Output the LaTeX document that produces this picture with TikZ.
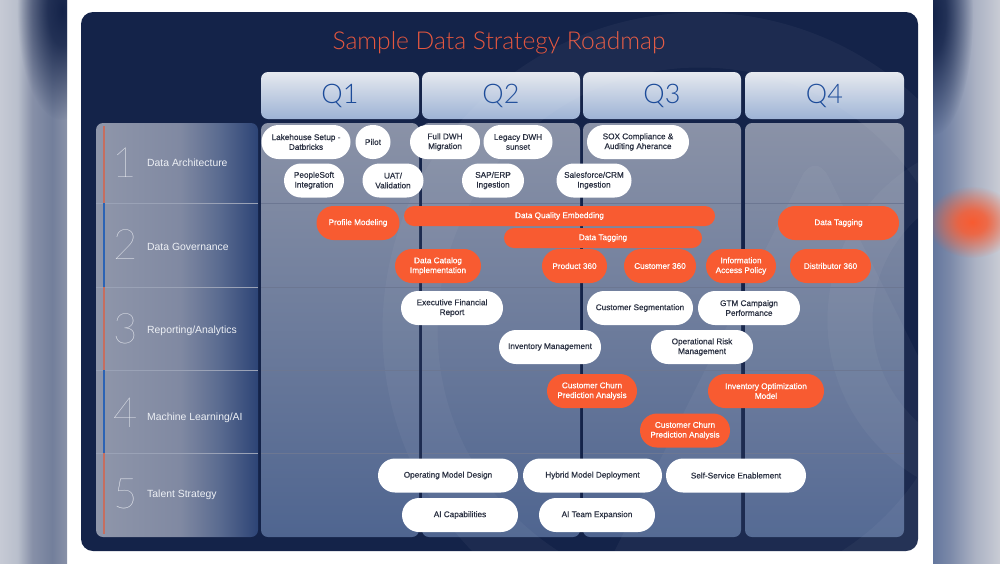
\documentclass[tikz,border=0pt]{standalone}
\usepackage{fontspec}
\setmainfont{Liberation Sans}
\IfFontExistsTF{Lato Light}{\newfontfamily\ttlfont{Lato Light}}{\newfontfamily\ttlfont{Liberation Sans}}
\IfFontExistsTF{Lato Thin}{\newfontfamily\digfont{Lato Thin}}{\IfFontExistsTF{Lato Light}{\newfontfamily\digfont{Lato Light}}{\newfontfamily\digfont{Liberation Sans}}}
\newfontfamily\pillfam{Liberation Sans}[FakeBold=0.6]
\usetikzlibrary{fadings}
\definecolor{navy}{HTML}{142349}
\definecolor{hdrTop}{HTML}{E6E9EF}
\definecolor{hdrBot}{HTML}{9DB3D5}
\definecolor{qblue}{HTML}{1C4B99}
\definecolor{colTop}{HTML}{8A92A7}
\definecolor{colBot}{HTML}{4F6590}
\definecolor{labA}{HTML}{8F96AA}
\definecolor{labB}{HTML}{8089A2}
\definecolor{labC}{HTML}{5A6B90}
\definecolor{labD}{HTML}{2D4476}
\definecolor{gridLine}{HTML}{6C7792}
\definecolor{labLine}{HTML}{9AA2B6}
\definecolor{barOrange}{HTML}{C56E60}
\definecolor{barBlue}{HTML}{2B63B5}
\definecolor{orng}{HTML}{F85B31}
\definecolor{pilltext}{HTML}{2B3142}
\definecolor{labcol}{HTML}{EDF0F5}
\definecolor{numcol}{HTML}{F2F4F8}
\definecolor{titlecol}{HTML}{E5573F}
\definecolor{lsA}{HTML}{C6CAD5}
\definecolor{lsB}{HTML}{B9BFCC}
\definecolor{lsC}{HTML}{8790A8}
\definecolor{lsD}{HTML}{737F9B}
\definecolor{lsE}{HTML}{8891A8}
\definecolor{rsA}{HTML}{64779E}
\definecolor{rsB}{HTML}{7A88A8}
\definecolor{rsC}{HTML}{AAB1C3}
\definecolor{rsD}{HTML}{C9CCD5}
\pgfdeclarehorizontalshading{labshade}{100bp}{color(0bp)=(labA); color(25bp)=(labA); color(51bp)=(labB); color(63bp)=(labC); color(75bp)=(labD); color(100bp)=(labD)}
\pgfdeclarehorizontalshading{leftstrip}{100bp}{color(0bp)=(lsA); color(25bp)=(lsA); color(38bp)=(lsB); color(49bp)=(lsC); color(64bp)=(lsD); color(75bp)=(lsE); color(100bp)=(lsE)}
\pgfdeclarehorizontalshading{rightstrip}{100bp}{color(0bp)=(rsA); color(25bp)=(rsA); color(37bp)=(rsB); color(56bp)=(rsC); color(75bp)=(rsD); color(100bp)=(rsD)}
\pgfdeclareradialshading{blobshade}{\pgfpointorigin}{color(0bp)=(pgftransparent!0); color(8bp)=(pgftransparent!15); color(25bp)=(pgftransparent!100); color(50bp)=(pgftransparent!100)}
\pgfdeclarefading{softblob}{\pgfuseshading{blobshade}}
\newcommand\pillfont{\pillfam\fontsize{8.2}{9.8}\selectfont}
\begin{document}
\begin{tikzpicture}[x=1pt,y=-1pt,
  wpill/.style={fill=white, text=pilltext, rounded corners=17pt, minimum height=34pt, inner sep=0pt, align=center, font=\pillfont},
  opill/.style={wpill, fill=orng, text=white},
  obar/.style={opill, rounded corners=10pt, minimum height=20pt},
  hdr/.style={rounded corners=7pt, top color=hdrTop, bottom color=hdrBot, text=qblue, minimum width=158pt, minimum height=47pt, inner sep=0pt, font=\ttlfont\fontsize{27}{27}\selectfont},
  colbody/.style={rounded corners=7pt, top color=colTop, bottom color=colBot, minimum height=414pt, inner sep=0pt},
  numtxt/.style={text=numcol, inner sep=0pt, font=\digfont\fontsize{42}{42}\selectfont},
  labtxt/.style={text=labcol, inner sep=0pt, anchor=west, font=\fontsize{10.4}{12}\selectfont},
  gridrule/.style={draw=gridLine, line width=0.6pt},
  labrule/.style={draw=labLine, line width=0.6pt},
  sidebar/.style={line width=2pt},
  mark ring/.style={draw=white, opacity=0.04}
]
\useasboundingbox (0,0) rectangle (1000,563);
\fill[white] (0,0) rectangle (1000,563);
% side strips (blurred backdrop)
\shade[shading=leftstrip] (0,0) rectangle (67,563);
\shade[shading=rightstrip] (933,0) rectangle (1000,563);
\begin{scope}
  \clip (0,0) rectangle (67,563);
  \fill[navy, path fading=softblob] (62,10) ellipse [x radius=45, y radius=110];
\end{scope}
\begin{scope}
  \clip (933,0) rectangle (1000,563);
  \fill[navy, path fading=softblob] (933,15) ellipse [x radius=40, y radius=120];
  \fill[orng, path fading=softblob] (972,222) ellipse [x radius=45, y radius=36];
\end{scope}
% main panel
\fill[navy, rounded corners=12pt] (81,12) rectangle (918,551);
% title
\node[text=titlecol, inner sep=0pt, font=\ttlfont\fontsize{24.6}{25}\selectfont] (title) at (499,43) {Sample Data Strategy Roadmap};
% quarter headers
\node[hdr] (q1) at (340,95.5) {Q1};
\node[hdr] (q2) at (501,95.5) {Q2};
\node[hdr] (q3) at (662,95.5) {Q3};
\node[hdr, minimum width=159pt] (q4) at (824.5,95.5) {Q4};
% column bodies
\node[colbody, minimum width=158pt] (c1) at (340,330) {};
\node[colbody, minimum width=158pt] (c2) at (501,330) {};
\node[colbody, minimum width=158pt] (c3) at (662,330) {};
\node[colbody, minimum width=159pt] (c4) at (824.5,330) {};
% label column
\node[shade, shading=labshade, rounded corners=7pt, minimum width=162pt, minimum height=414pt, inner sep=0pt] (labcolumn) at (177,330) {};
% faint watermark
\begin{scope}
  \clip[rounded corners=12pt] (81,12) rectangle (918,551);
  \draw[mark ring, line width=55pt] (700,330) circle [radius=290];
  \draw[mark ring, line width=45pt] (1010,320) circle [radius=160];
  \fill[white, opacity=0.04, rounded corners=30pt] (815,150) -- (1040,600) -- (590,600) -- cycle;
\end{scope}
% row rules
\foreach \yy in {203,287,370,453} {
  \foreach \xa/\xb in {261/419, 422/580, 583/741, 745/904} {
    \draw[gridrule] (\xa,\yy) -- (\xb,\yy);
  }
  \draw[labrule] (96,\yy) -- (258,\yy);
}
% side bars
\draw[sidebar, barOrange] (104,126) -- (104,203);
\draw[sidebar, barBlue] (104,203) -- (104,287);
\draw[sidebar, barOrange] (104,287) -- (104,370);
\draw[sidebar, barBlue] (104,370) -- (104,453);
\draw[sidebar, barOrange] (104,453) -- (104,534);
% row labels
\node[numtxt] (n1) at (125,163) {1};
\node[numtxt] (n2) at (125.5,245) {2};
\node[numtxt] (n3) at (125.5,329) {3};
\node[numtxt] (n4) at (125.5,413) {4};
\node[numtxt] (n5) at (125.5,494) {5};
\node[labtxt] (l1) at (147,163) {Data Architecture};
\node[labtxt] (l2) at (147,247) {Data Governance};
\node[labtxt] (l3) at (147,331) {Reporting/Analytics};
\node[labtxt] (l4) at (147,418) {Machine Learning/AI};
\node[labtxt] (l5) at (147,495) {Talent Strategy};
% row 1: data architecture
\node[wpill, minimum width=89pt] (lake) at (306,142) {Lakehouse Setup -\\Datbricks};
\node[wpill, minimum width=35pt] (pilot) at (373,142) {Pilot};
\node[wpill, minimum width=70pt] (fulldwh) at (445,142) {Full DWH\\Migration};
\node[wpill, minimum width=69pt] (legacy) at (518,142) {Legacy DWH\\sunset};
\node[wpill, minimum width=102pt] (sox) at (638,142) {SOX Compliance \&\\Auditing Aherance};
\node[wpill, minimum width=60pt] (psoft) at (314,180.5) {PeopleSoft\\Integration};
\node[wpill, minimum width=61pt] (uat) at (393,180.5) {UAT/\\Validation};
\node[wpill, minimum width=62pt] (sap) at (493,180.5) {SAP/ERP\\Ingestion};
\node[wpill, minimum width=75pt] (sfdc) at (594,180.5) {Salesforce/CRM\\Ingestion};
% row 2: data governance
\node[opill, minimum width=83pt] (profile) at (358,223) {Profile Modeling};
\node[obar, minimum width=311pt] (dqe) at (559.5,216) {Data Quality Embedding};
\node[obar, minimum width=198pt] (dtag1) at (603,238) {Data Tagging};
\node[opill, minimum width=86pt] (catalog) at (438,266) {Data Catalog\\Implementation};
\node[opill, minimum width=65pt] (prod) at (574.5,266) {Product 360};
\node[opill, minimum width=72pt] (cust) at (660,266) {Customer 360};
\node[opill, minimum width=70pt] (infopol) at (741,266) {Information\\Access Policy};
\node[opill, minimum width=121pt] (dtag2) at (838.5,223) {Data Tagging};
\node[opill, minimum width=81pt] (dist) at (830.5,266) {Distributor 360};
% row 3: reporting/analytics
\node[wpill, minimum width=102pt] (exec) at (452,308) {Executive Financial\\Report};
\node[wpill, minimum width=106pt] (seg) at (640,308) {Customer Segmentation};
\node[wpill, minimum width=102pt] (gtm) at (749,308) {GTM Campaign\\Performance};
\node[wpill, minimum width=102pt] (inv) at (550,347) {Inventory Management};
\node[wpill, minimum width=102pt] (oprisk) at (702,347) {Operational Risk\\Management};
% row 4: machine learning/AI
\node[opill, minimum width=90pt] (churn1) at (592,391) {Customer Churn\\Prediction Analysis};
\node[opill, minimum width=116pt] (invopt) at (766,391) {Inventory Optimization\\Model};
\node[opill, minimum width=90pt] (churn2) at (685,430.5) {Customer Churn\\Prediction Analysis};
% row 5: talent strategy
\node[wpill, minimum width=140pt] (opmodel) at (448,475.5) {Operating Model Design};
\node[wpill, minimum width=139pt] (hybrid) at (592.5,475.5) {Hybrid Model Deployment};
\node[wpill, minimum width=140pt] (selfsvc) at (736,475.5) {Self-Service Enablement};
\node[wpill, minimum width=116pt] (aicap) at (460,515) {AI Capabilities};
\node[wpill, minimum width=116pt] (aiteam) at (597,515) {AI Team Expansion};
\end{tikzpicture}
\end{document}
